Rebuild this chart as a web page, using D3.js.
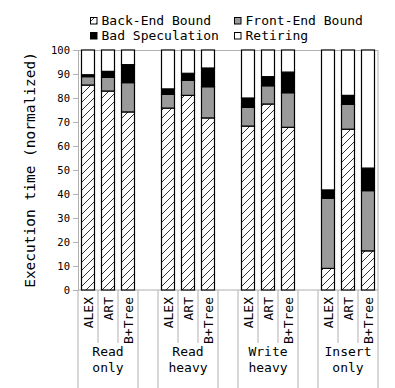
<!DOCTYPE html>
<html><head><meta charset="utf-8">
<script src="https://cdn.jsdelivr.net/npm/d3@7"></script>
<style>
html,body{margin:0;padding:0;background:#fff;}
text{font-family:"DejaVu Sans Mono",monospace;fill:#000;}
</style></head>
<body><svg id="c" width="395" height="388"></svg>
<script>
const groups = ["Read only","Read heavy","Write heavy","Insert only"];
const indexes = ["ALEX","ART","B+Tree"];
const seriesNames = ["Back-End Bound","Front-End Bound","Bad Speculation","Retiring"];
// per bar, order: group x index
const backEnd  = [85.4, 82.9, 74.2, 75.8, 81.1, 71.7, 68.3, 77.5, 67.8,  9.0, 67.0, 16.3];
const frontEnd = [ 3.5,  5.7, 12.2,  5.7,  6.3, 13.0,  7.8,  7.6, 14.4, 29.2, 10.4, 25.1];
const badSpec  = [ 0.8,  2.5,  7.5,  2.3,  2.9,  7.8,  3.9,  3.8,  8.6,  3.5,  3.7,  9.4];
const retiring = [10.3,  8.9,  6.1, 16.2,  9.7,  7.5, 20.0, 11.1,  9.2, 58.3, 18.9, 49.2];
const yTicks = [0,10,20,30,40,50,60,70,80,90,100];

const svg = d3.select("#c");
const L = 78, R = 378, T = 50, B = 290;
const axisGray = "#b0b0b0";

const slots = [];
groups.forEach((g, gi) => {
  indexes.forEach(ix => slots.push(g + "|" + ix));
  if (gi < groups.length - 1) slots.push("gap" + gi);
});
const x = d3.scaleBand().domain(slots).range([L, R]).paddingInner(0.35).paddingOuter(0.175);
const y = d3.scaleLinear().domain([0, 100]).range([B, T]);

const rows = [];
groups.forEach((g, gi) => indexes.forEach((ix, ii) => {
  const k = gi * indexes.length + ii;
  rows.push({key: g + "|" + ix, group: g, index: ix,
    "Back-End Bound": backEnd[k], "Front-End Bound": frontEnd[k],
    "Bad Speculation": badSpec[k], "Retiring": retiring[k]});
}));
const stacked = d3.stack().keys(seriesNames)(rows);

const defs = svg.append("defs");
const P = 8;
const pat = defs.append("pattern").attr("id", "hatch").attr("patternUnits", "userSpaceOnUse")
  .attr("width", P).attr("height", P);
pat.append("rect").attr("width", P).attr("height", P).attr("fill", "#fff");
pat.append("path").attr("d", `M-1,${P+1} L${P+1},-1 M-2,2 L2,-2 M${P-2},${P+2} L${P+2},${P-2}`)
  .attr("stroke", "#000").attr("stroke-width", 0.8);

const fills = {"Back-End Bound": "url(#hatch)", "Front-End Bound": "#9a9a9a",
  "Bad Speculation": "#000", "Retiring": "#fff"};

svg.append("line").attr("x1", L).attr("x2", R).attr("y1", T + 0.5).attr("y2", T + 0.5).attr("stroke", axisGray);
svg.append("line").attr("x1", R).attr("x2", R).attr("y1", T).attr("y2", B).attr("stroke", axisGray);
svg.append("line").attr("x1", L).attr("x2", R).attr("y1", B).attr("y2", B).attr("stroke", axisGray);

const yAxis = d3.axisLeft(y).tickValues(yTicks).tickSize(5).tickPadding(3);
const ga = svg.append("g").attr("transform", `translate(${L},0)`).call(yAxis);
ga.select(".domain").attr("stroke", axisGray);
ga.selectAll(".tick line").attr("stroke", axisGray);
ga.selectAll(".tick text").attr("font-family", "DejaVu Sans Mono").attr("font-size", 10.5).attr("fill", "#000");

svg.append("text").attr("transform", `translate(35,${(T + B) / 2}) rotate(-90)`)
  .attr("text-anchor", "middle").attr("font-size", 14.5).text("Execution time (normalized)");

stacked.forEach(s => {
  svg.append("g").selectAll("rect").data(s).join("rect")
    .attr("x", d => x(d.data.key)).attr("width", x.bandwidth())
    .attr("y", d => y(d[1])).attr("height", d => y(d[0]) - y(d[1]))
    .attr("fill", fills[s.key]).attr("stroke", "#000").attr("stroke-width", 1.2);
});

rows.forEach(r => {
  const cx = x(r.key) + x.bandwidth() / 2;
  svg.append("text").attr("transform", `translate(${cx + 4.5},297) rotate(-90)`)
    .attr("text-anchor", "end").attr("font-size", 13).text(r.index);
});
const step = x.step();
groups.forEach((g, gi) => {
  const x0 = x(g + "|" + indexes[0]) - (step - x.bandwidth()) / 2;
  const x1 = x0 + step * indexes.length;
  [x0, x1].forEach(xx => svg.append("line").attr("x1", xx).attr("x2", xx)
    .attr("y1", B).attr("y2", 388).attr("stroke", axisGray));
  for (let i = 1; i < indexes.length; i++) {
    const xx = x0 + step * i;
    svg.append("line").attr("x1", xx).attr("x2", xx).attr("y1", B).attr("y2", 343).attr("stroke", axisGray);
  }
  const words = g.split(" ");
  const t = svg.append("text").attr("text-anchor", "middle").attr("font-size", 13);
  words.forEach((w, wi) => t.append("tspan").attr("x", (x0 + x1) / 2).attr("y", 356 + wi * 15.5).text(w));
});

const legPos = [[90, 25], [234, 25], [90, 40], [234, 40]];
seriesNames.forEach((n, i) => {
  const [lx, ly] = legPos[i];
  svg.append("rect").attr("x", lx + 0.5).attr("y", ly - 7.5).attr("width", 6.5).attr("height", 6.5)
    .attr("fill", fills[n]).attr("stroke", "#000").attr("stroke-width", 1);
  svg.append("text").attr("x", lx + 11.5).attr("y", ly).attr("font-size", 13).text(n);
});
</script></body></html>
